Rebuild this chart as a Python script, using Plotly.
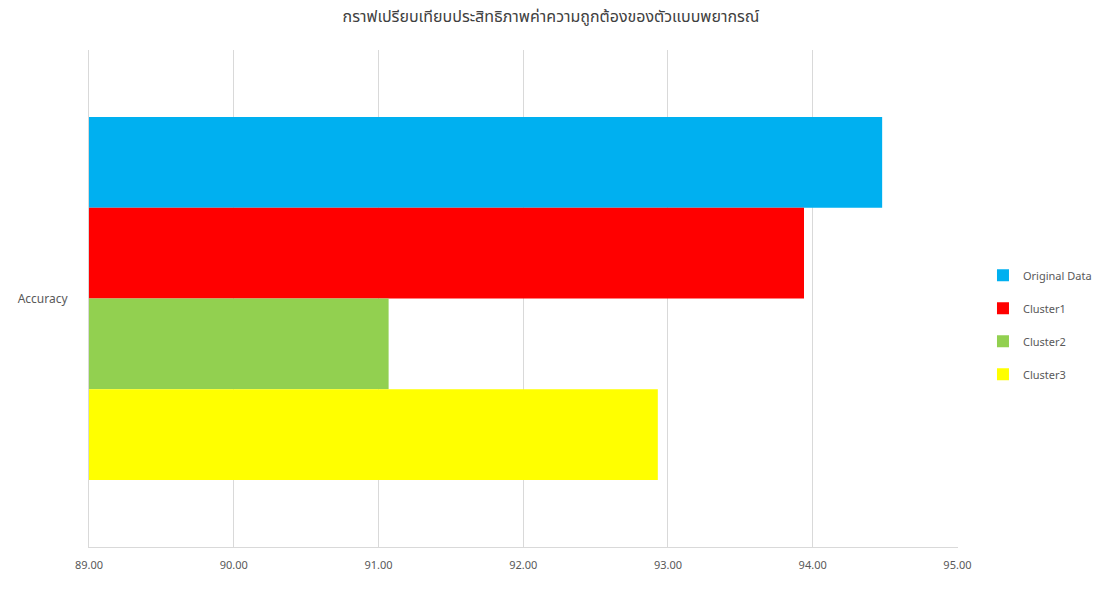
import plotly.graph_objects as go

categories = ["Accuracy"]
series_names = ["Original Data", "Cluster1", "Cluster2", "Cluster3"]
series_values = [[94.48], [93.94], [91.07], [92.93]]
series_colors = ["#00B0F0", "#FF0000", "#92D050", "#FFFF00"]
x_ticks = [89, 90, 91, 92, 93, 94, 95]
x_tick_labels = ["89.00", "90.00", "91.00", "92.00", "93.00", "94.00", "95.00"]
title_text = "กราฟเปรียบเทียบประสิทธิภาพค่าความถูกต้องของตัวแบบพยากรณ์"

fig = go.Figure()
for i, (name, vals, col) in enumerate(zip(series_names, series_values, series_colors)):
    fig.add_trace(go.Bar(
        y=categories, x=vals, name=name, orientation="h",
        legendgroup="g%d" % i,
        marker=dict(color=col, line=dict(width=0)),
    ))

fig.update_layout(
    width=1102, height=595,
    margin=dict(l=89, r=144, t=50, b=48),
    paper_bgcolor="white", plot_bgcolor="white",
    barmode="group", bargap=0.27, bargroupgap=0,
    font=dict(family="Noto Sans, Noto Sans Thai, sans-serif", size=11, color="#595959"),
    title=dict(text=title_text, x=0.5, xanchor="center", y=0.972, yanchor="middle",
               font=dict(size=16, color="#404040")),
    legend=dict(xref="container", x=0.892, xanchor="left", y=0.447, yanchor="middle",
                traceorder="grouped", font=dict(size=11, color="#595959"),
                itemwidth=30, tracegroupgap=14),
    showlegend=True,
)
fig.update_xaxes(range=[89, 95.004], tickvals=x_ticks, ticktext=x_tick_labels,
                 showgrid=True, gridcolor="#D9D9D9", gridwidth=1,
                 showline=True, linecolor="#D9D9D9", zeroline=False,
                 ticks="", ticklabelstandoff=8, tickfont=dict(size=11))
fig.update_yaxes(autorange="reversed", showgrid=False, showline=True, linecolor="#D9D9D9",
                 ticks="", ticklabelstandoff=18, tickfont=dict(size=12))

fig.write_html("out.html")
